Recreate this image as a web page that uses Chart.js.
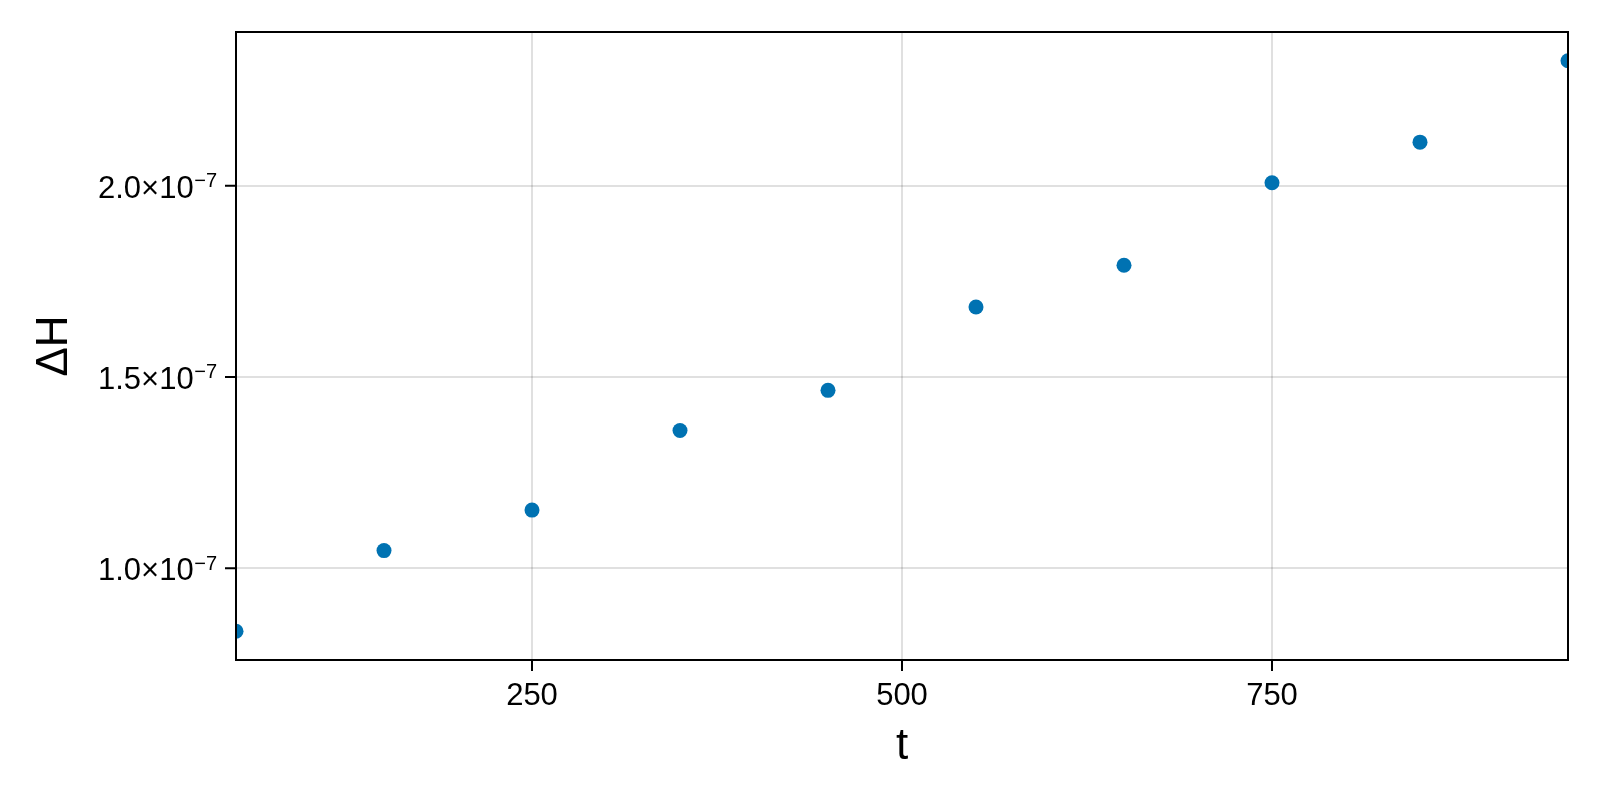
<!DOCTYPE html>
<html>
<head>
<meta charset="utf-8">
<title>ΔH vs t</title>
<script src="https://cdn.jsdelivr.net/npm/chart.js@4"></script>
<style>
  html, body { margin: 0; padding: 0; background: #fff; }
  #wrap { width: 1600px; height: 800px; }
</style>
</head>
<body>
<div id="wrap"><canvas id="chart" width="1600" height="800"></canvas></div>
<script>
// --- DATA ---
const tValues = [50, 150, 250, 350, 450, 550, 650, 750, 850, 950];
const dHValues = [0.835e-7, 1.046e-7, 1.152e-7, 1.360e-7, 1.465e-7,
                  1.683e-7, 1.792e-7, 2.008e-7, 2.114e-7, 2.327e-7];

const xTicks = [250, 500, 750];
const yTicks = [1.0e-7, 1.5e-7, 2.0e-7];
// mantissa part and exponent of each y tick label
const yTickMantissa = ['1.0×10', '1.5×10', '2.0×10'];
const yTickExponent = ['−7', '−7', '−7'];

const xRange = [50, 950];
const yRange = [0.760e-7, 2.402e-7];

const FONT = '"Liberation Sans", Arial, Helvetica, sans-serif';
const TICK_LEN = 11;

// Full box around the plot area, outward tick marks,
// and y tick labels with a real superscript exponent
const frame = {
    id: 'frame',
    afterDraw(chart) {
        const { ctx, chartArea: a } = chart;
        const xs = chart.scales.x, ys = chart.scales.y;
        ctx.save();
        ctx.strokeStyle = '#000';
        ctx.lineWidth = 2;
        ctx.strokeRect(a.left, a.top, a.right - a.left, a.bottom - a.top);

        ctx.beginPath();
        xTicks.forEach(v => {
            const x = xs.getPixelForValue(v);
            ctx.moveTo(x, a.bottom);
            ctx.lineTo(x, a.bottom + TICK_LEN);
        });
        yTicks.forEach(v => {
            const y = ys.getPixelForValue(v);
            ctx.moveTo(a.left, y);
            ctx.lineTo(a.left - TICK_LEN, y);
        });
        ctx.stroke();

        ctx.fillStyle = '#000';
        ctx.textAlign = 'right';
        ctx.textBaseline = 'alphabetic';
        const right = a.left - 19;
        yTicks.forEach((v, i) => {
            const y = ys.getPixelForValue(v);
            ctx.font = '20px ' + FONT;
            const ew = ctx.measureText(yTickExponent[i]).width;
            ctx.fillText(yTickExponent[i], right, y + 1.5);
            ctx.font = '31px ' + FONT;
            ctx.fillText(yTickMantissa[i], right - ew - 0.5, y + 12);
        });
        ctx.restore();
    }
};

const points = tValues.map((t, i) => ({ x: t, y: dHValues[i] }));

new Chart(document.getElementById('chart').getContext('2d'), {
    type: 'scatter',
    data: {
        datasets: [{
            data: points,
            backgroundColor: '#0072B2',
            borderWidth: 0,
            pointRadius: 7.5,
            pointHoverRadius: 7.5,
            clip: 0
        }]
    },
    options: {
        responsive: false,
        animation: false,
        devicePixelRatio: 1,
        layout: { padding: { top: 32, right: 32, left: 0, bottom: 0 } },
        plugins: { legend: { display: false }, tooltip: { enabled: false } },
        scales: {
            x: {
                type: 'linear',
                min: xRange[0], max: xRange[1],
                afterBuildTicks: s => { s.ticks = xTicks.map(v => ({ value: v })); },
                afterFit: s => { s.height = 140; },
                grid: { color: 'rgba(0,0,0,0.12)', lineWidth: 2, drawTicks: false },
                border: { display: false },
                ticks: { color: '#000', font: { family: FONT, size: 31 }, padding: 18, maxRotation: 0 },
                title: { display: true, text: 't', color: '#000', font: { family: FONT, size: 44 }, padding: { top: 0, bottom: 27 } }
            },
            y: {
                type: 'linear',
                min: yRange[0], max: yRange[1],
                afterBuildTicks: s => { s.ticks = yTicks.map(v => ({ value: v })); },
                afterFit: s => { s.width = 236; },
                grid: { color: 'rgba(0,0,0,0.12)', lineWidth: 2, drawTicks: false },
                border: { display: false },
                ticks: { display: false },
                title: { display: true, text: 'ΔH', color: '#000', font: { family: FONT, size: 44 }, padding: { top: 28, bottom: 0 } }
            }
        }
    },
    plugins: [frame]
});
</script>
</body>
</html>
